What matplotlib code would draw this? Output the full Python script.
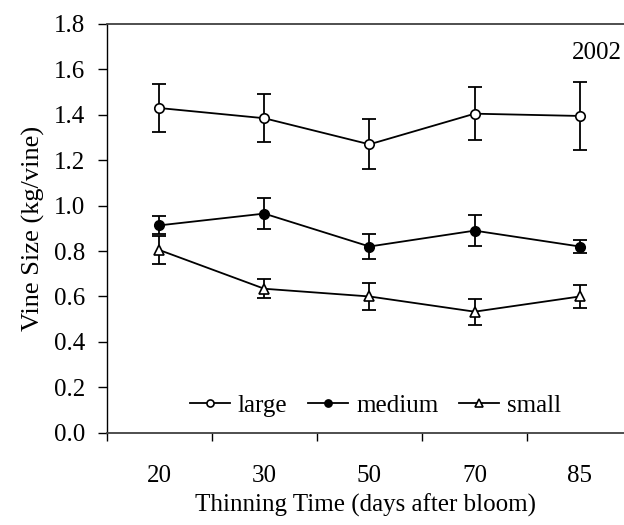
import matplotlib
matplotlib.use("Agg")
import matplotlib.pyplot as plt
import numpy as np

plt.rcParams['font.family'] = ['Liberation Serif', 'DejaVu Serif']
plt.rcParams['mathtext.fontset'] = 'stix'

categories = ["20", "30", "50", "70", "85"]
large = [1.43, 1.385, 1.27, 1.405, 1.395]
large_err = [0.105, 0.105, 0.11, 0.117, 0.15]
medium = [0.913, 0.965, 0.82, 0.89, 0.82]
medium_err = [0.04, 0.07, 0.055, 0.068, 0.03]
small = [0.805, 0.634, 0.600, 0.533, 0.600]
small_err = [0.063, 0.042, 0.058, 0.057, 0.052]
year_label = "2002"

FS = 18
fig = plt.figure(figsize=(6.24, 5.25), dpi=100)
ax = fig.add_axes([106.5/624, (525-432.7)/525, 1 - 106.5/624, (432.7-24)/525])

x = np.arange(len(categories))
series = [
    ("large", large, large_err, dict(marker='o', mfc='white')),
    ("medium", medium, medium_err, dict(marker='o', mfc='black')),
    ("small", small, small_err, dict(marker='^', mfc='white')),
]
handles = []
for name, vals, err, st in series:
    ax.errorbar(x, vals, yerr=err, fmt='none', ecolor='black', elinewidth=1.3,
                capsize=5, capthick=1.3, zorder=2)
    h, = ax.plot(x, vals, color='black', lw=1.3, marker=st['marker'],
                 mfc=st['mfc'], mec='black', mew=1.2, ms=6.8, label=name, zorder=3)
    handles.append(h)

ax.set_xlim(-0.5, 4.42)
ax.set_ylim(0, 1.8)
ax.set_yticks(np.arange(0, 1.81, 0.2))
ax.set_yticklabels([f"{v:.1f}" for v in np.arange(0, 1.81, 0.2)])
ax.set_xticks(x)
ax.set_xticklabels(categories)
ax.set_xticks(np.arange(-0.5, 4.0, 1.0), minor=True)
ax.tick_params(axis='x', which='major', length=0, pad=23, labelsize=FS)
ax.tick_params(axis='x', which='minor', length=5.5, width=1, direction='out')
ax.tick_params(axis='y', length=6.5, width=1, direction='out', labelsize=FS, pad=9)

ax.spines['right'].set_visible(False)
for s in ['top', 'bottom']:
    ax.spines[s].set_color('#404040')
    ax.spines[s].set_linewidth(1.3)
ax.spines['left'].set_linewidth(1.0)

ax.set_xlabel("Thinning Time (days after bloom)", fontsize=FS, labelpad=5)
ax.set_ylabel("Vine Size (kg/vine)", fontsize=19, labelpad=6)

ax.text(0.995, 0.93, year_label, transform=ax.transAxes, ha='right', va='center', fontsize=FS)

leg = ax.legend(handles=handles, loc='center', bbox_to_anchor=(0.52, 0.066), ncol=3,
                frameon=False, fontsize=FS, handlelength=1.6, handletextpad=0.3,
                columnspacing=0.85, borderaxespad=0, markerscale=0.75)

fig.savefig("out.png", dpi=100)
